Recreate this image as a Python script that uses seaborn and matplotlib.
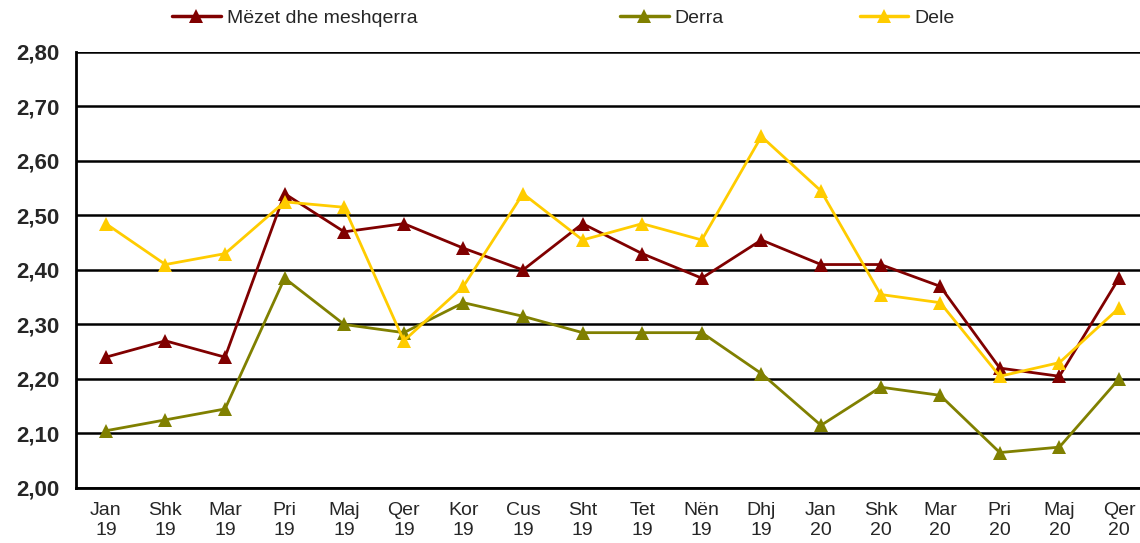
import pandas as pd
import seaborn as sns
from matplotlib import pyplot as plt

# data
months = ["Jan\n19", "Shk\n19", "Mar\n19", "Pri\n19", "Maj\n19", "Qer\n19", "Kor\n19", "Cus\n19", "Sht\n19",
          "Tet\n19", "Nën\n19", "Dhj\n19", "Jan\n20", "Shk\n20", "Mar\n20", "Pri\n20", "Maj\n20", "Qer\n20"]
mezet = [2.24, 2.27, 2.24, 2.54, 2.47, 2.485, 2.44, 2.40, 2.485, 2.43, 2.385, 2.455, 2.41, 2.41, 2.37, 2.22, 2.205, 2.385]
derra = [2.105, 2.125, 2.145, 2.385, 2.30, 2.285, 2.34, 2.315, 2.285, 2.285, 2.285, 2.21, 2.115, 2.185, 2.17, 2.065, 2.075, 2.20]
dele = [2.485, 2.41, 2.43, 2.525, 2.515, 2.27, 2.37, 2.54, 2.455, 2.485, 2.455, 2.645, 2.545, 2.355, 2.34, 2.205, 2.23, 2.33]
series_names = ["Mëzet dhe meshqerra", "Derra", "Dele"]
colors = ["#800000", "#808000", "#FFCC00"]

df = pd.DataFrame({"x": list(range(len(months))) * 3,
                   "value": mezet + derra + dele,
                   "series": [n for n in series_names for _ in months]})

sns.set_style("white")
plt.rcParams['font.family'] = ['Liberation Sans', 'DejaVu Sans']

fig = plt.figure(figsize=(11.4, 5.43), dpi=100)
ax = fig.add_axes([0.0667, 0.1013, 0.941, 0.803])

sns.lineplot(data=df, x="x", y="value", hue="series", palette=colors, marker="^",
             markersize=10, markeredgewidth=0, linewidth=2, ax=ax, legend=False)

ax.set_xlim(-0.5, len(months) - 0.5)
ax.set_ylim(2.0, 2.8)
yt = [2.0 + 0.1 * i for i in range(9)]
ax.set_yticks(yt)
ax.set_yticklabels([f"{v:.2f}".replace(".", ",") for v in yt], fontsize=16, fontweight="bold")
ax.yaxis.grid(True, color="black", linewidth=1.8)
ax.set_axisbelow(True)

ax.set_xticks([i + 0.5 for i in range(-1, len(months))])
ax.set_xticklabels([])
ax.set_xticks(range(len(months)), minor=True)
ax.set_xticklabels(months, minor=True, fontsize=14, linespacing=1.25)
ax.tick_params(axis="x", which="major", direction="out", length=6, width=1.5, color="black")
ax.tick_params(axis="x", which="minor", length=0, pad=10)
ax.tick_params(axis="y", direction="out", length=6, width=1.5, color="black", pad=6)
ax.set_xlabel("")
ax.set_ylabel("")

for s in ["top", "right"]:
    ax.spines[s].set_visible(False)
for s in ["left", "bottom"]:
    ax.spines[s].set_color("black")
    ax.spines[s].set_linewidth(2)

# one legend entry per series, spaced like the original
legend_x = [0.151, 0.544, 0.754]
for name, c, lx in zip(series_names, colors, legend_x):
    h = plt.Line2D([], [], color=c, marker="^", markersize=10, markeredgewidth=0, linewidth=2.5)
    fig.legend([h], [name], loc="center left", bbox_to_anchor=(lx, 0.967), frameon=False,
               fontsize=14, handlelength=2.5, handletextpad=0.3, borderpad=0, borderaxespad=0)

fig.savefig("out.png", dpi=100)
